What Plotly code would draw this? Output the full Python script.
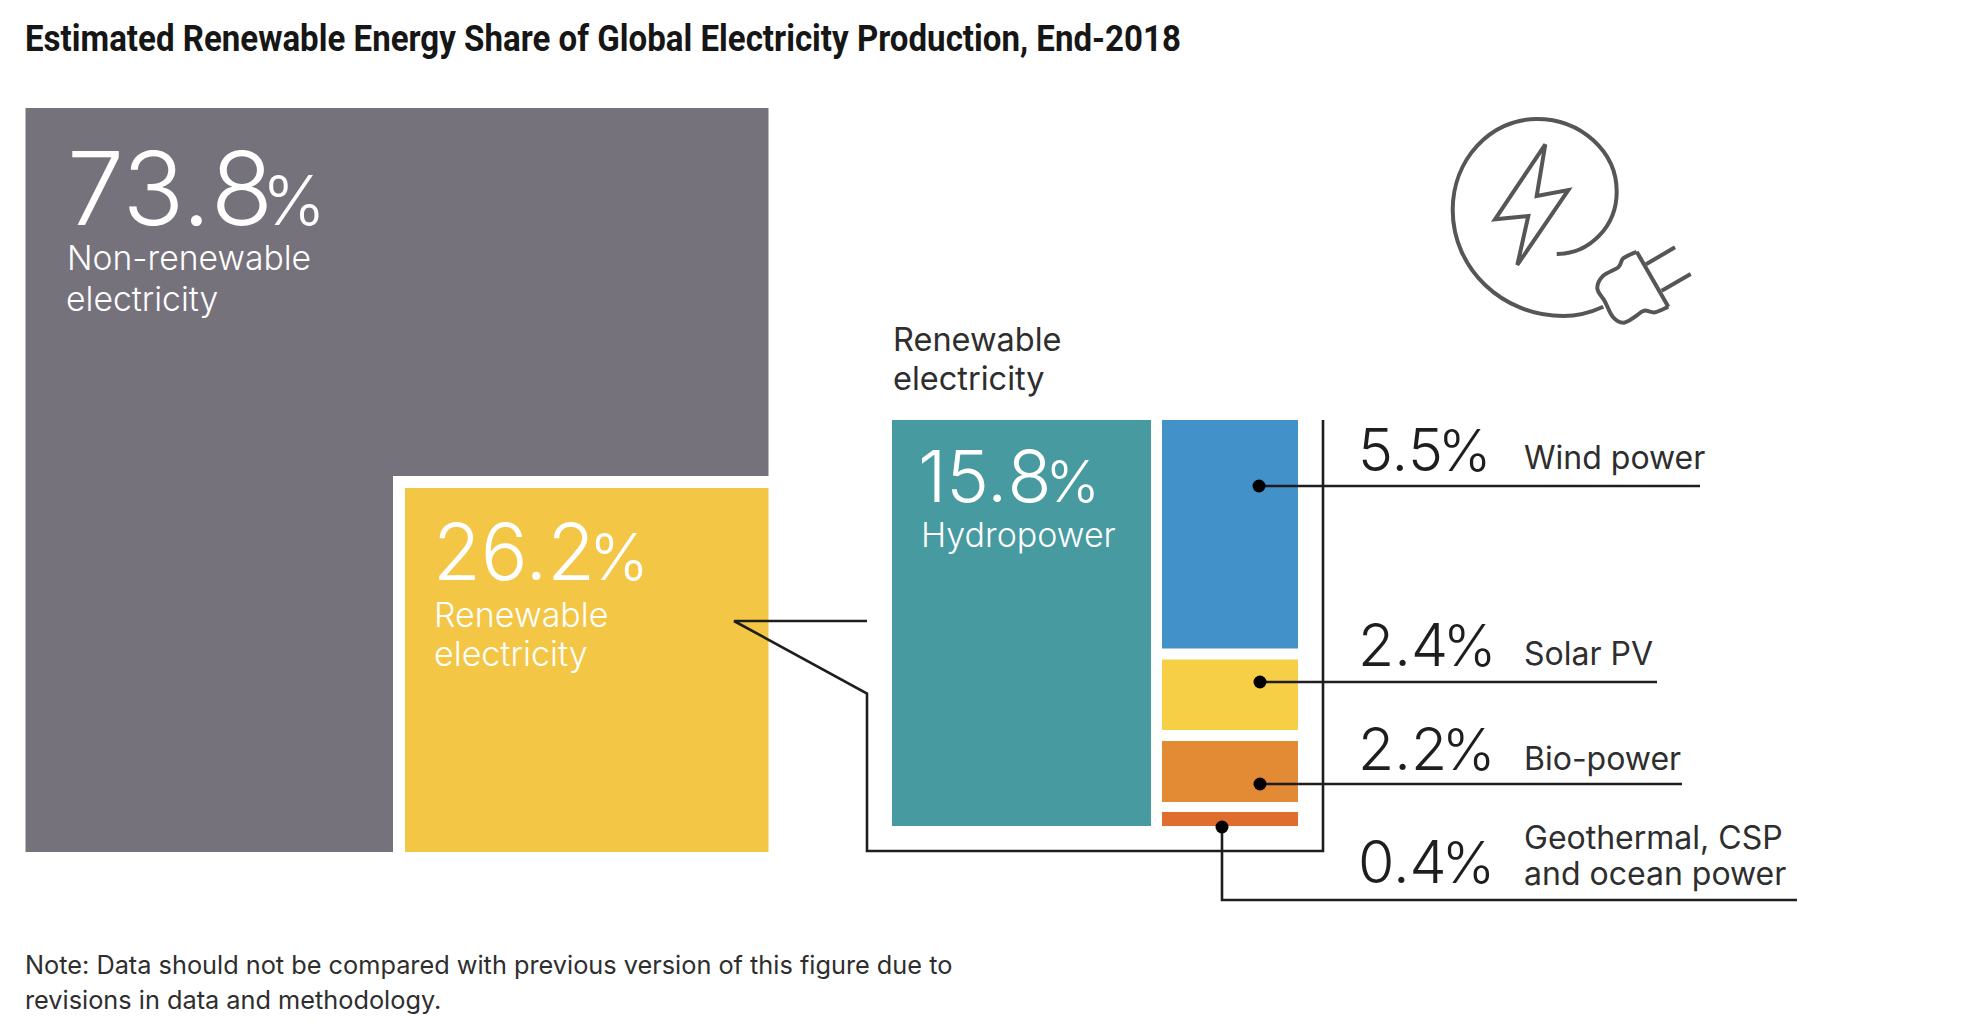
import plotly.graph_objects as go

# ---------- data ----------
title = "Estimated Renewable Energy Share of Global Electricity Production, End-2018"
note_lines = ["Note: Data should not be compared with previous version of this figure due to",
              "revisions in data and methodology."]
main_names = ["Non-renewable electricity", "Renewable electricity"]
main_values = [73.8, 26.2]
detail_names = ["Hydropower", "Wind power", "Solar PV", "Bio-power", "Geothermal, CSP and ocean power"]
detail_values = [15.8, 5.5, 2.4, 2.2, 0.4]

# ---------- drawing frame: cell edges as drawn in the source (not to linear scale) ----------
W, H = 1964, 1028
LEFT, RIGHT, TOP, BOTTOM = 25.5, 768.5, 108, 852
NOTCH_X, NOTCH_Y = 393, 476
REN_X, REN_Y = 405, 488
HYDRO_BOX = (892, 1151, 420, 826)
SIDE_X = (1162, 1298)
SIDE_Y = [(420, 648.5), (659.5, 730), (741, 802), (812, 826)]
COL = dict(grey="#75727C", ren="#F4C646", hydro="#469AA0", wind="#4292C9",
           solar="#F7CF46", bio="#E28A34", geo="#DF6D2E", ink="#1E1E1E", text="#2E2E2E", icon="#565656")
SIDE_COL = [COL["wind"], COL["solar"], COL["bio"], COL["geo"]]
FONT = "Inter"

fig = go.Figure()

def poly(xs, ys, color, name, value):
    fig.add_trace(go.Scatter(x=xs + xs[:1], y=ys + ys[:1], mode="lines", fill="toself",
                             fillcolor=color, line=dict(width=0, color=color), name=name,
                             hoveron="fills", text=f"{name}: {value}%", hoverinfo="text"))

def rect(x0, x1, y0, y1, color, name, value):
    poly([x0, x1, x1, x0], [y0, y0, y1, y1], color, name, value)

def line(xs, ys, width=2.6, color=COL["ink"]):
    fig.add_trace(go.Scatter(x=xs, y=ys, mode="lines", line=dict(width=width, color=color),
                             hoverinfo="skip"))

poly([LEFT, RIGHT, RIGHT, NOTCH_X, NOTCH_X, LEFT],
     [TOP, TOP, NOTCH_Y, NOTCH_Y, BOTTOM, BOTTOM], COL["grey"], main_names[0], main_values[0])
rect(REN_X, RIGHT, REN_Y, BOTTOM, COL["ren"], main_names[1], main_values[1])
rect(HYDRO_BOX[0], HYDRO_BOX[1], HYDRO_BOX[2], HYDRO_BOX[3], COL["hydro"], detail_names[0], detail_values[0])
for (y0, y1), c, n, v in zip(SIDE_Y, SIDE_COL, detail_names[1:], detail_values[1:]):
    rect(SIDE_X[0], SIDE_X[1], y0, y1, c, n, v)

# callout bracket
line([867, 734, 867, 867, 1323, 1323], [621, 621, 693.5, 851, 851, 420], width=2.6)
# leaders
line([1259, 1700], [486, 486])
line([1260, 1657], [682, 682])
line([1260, 1682], [784, 784])
line([1222, 1222, 1797], [827, 900, 900])
fig.add_trace(go.Scatter(x=[1259, 1260, 1260, 1222], y=[486, 682, 784, 827], mode="markers",
                         marker=dict(size=13, color="#000000"), hoverinfo="skip"))

# ---------- text ----------
def txt(x, y, s, size, color=COL["text"], weight=400, family=FONT, anchor="left"):
    fig.add_annotation(x=x, y=y, xref="x", yref="y", text=s, showarrow=False, xanchor=anchor, yanchor="middle",
                       align="left", font=dict(size=size, color=color, family=family, weight=weight))

def pct(v, small, tuck):
    s = str(v)
    return (f'{s[:-1]}<span style="letter-spacing:-{tuck}px">{s[-1]}</span>'
            f'<span style="font-size:{small}px">%</span>')

TITLE_W = 1156
txt(654.5, 39, title, 36, color="#161616", weight=700, family="Roboto", anchor="center")
txt(65, 188, pct(main_values[0], 68, 11), 102, "#FFFFFF", 300)
txt(64.5, 257.5, "Non-renewable", 33.7, "#FFFFFF", 300)
txt(64, 298, "electricity", 33.7, "#FFFFFF", 300)
txt(431, 551, pct(main_values[1], 64, 6), 78, "#FFFFFF", 300)
txt(432, 614, "Renewable", 34, "#FFFFFF", 300)
txt(432, 653, "electricity", 34, "#FFFFFF", 300)
txt(916, 475, pct(detail_values[0], 58, 6), 72, "#FFFFFF", 300)
txt(919, 534.5, detail_names[0], 34, "#FFFFFF", 300)
txt(890.5, 339, "Renewable", 32.5)
txt(890.5, 378, "electricity", 32.5)
for y, v in zip([449, 644.5, 748.5, 861.5], detail_values[1:]):
    txt(1356, y, pct(v, 57, 5), 59, COL["ink"], 300)
txt(1521.5, 457, detail_names[1], 32)
txt(1521.5, 653, detail_names[2], 32)
txt(1521.5, 758, detail_names[3], 32)
txt(1521.5, 837, "Geothermal, CSP", 32)
txt(1521.5, 873, "and ocean power", 32)
txt(22.5, 964, note_lines[0], 25.3)
txt(22.5, 999, note_lines[1], 25.3)

# ---------- decorative plug icon (px in a 3x crop at 1440,110) ----------
def P(x, y):
    return 1440 + x / 3, 110 + y / 3

def fmt(p):
    x, y = P(*p)
    return f"{x:.1f} {y:.1f}"

def beziers(start, segments):
    return f"M {fmt(start)} " + " ".join(f"C {fmt(a)} {fmt(b)} {fmt(c)}" for a, b, c in segments)

def smooth(points):
    pts = [P(*p) for p in points]
    d = f"M {pts[0][0]:.1f} {pts[0][1]:.1f}"
    for i in range(len(pts) - 1):
        p0 = pts[max(i - 1, 0)]; p1 = pts[i]; p2 = pts[i + 1]; p3 = pts[min(i + 2, len(pts) - 1)]
        c1 = (p1[0] + (p2[0] - p0[0]) / 6, p1[1] + (p2[1] - p0[1]) / 6)
        c2 = (p2[0] - (p3[0] - p1[0]) / 6, p2[1] - (p3[1] - p1[1]) / 6)
        d += f" C {c1[0]:.1f} {c1[1]:.1f} {c2[0]:.1f} {c2[1]:.1f} {p2[0]:.1f} {p2[1]:.1f}"
    return d

def straight(points, close=False):
    pts = [P(*p) for p in points]
    d = "M " + " L ".join(f"{x:.1f} {y:.1f}" for x, y in pts)
    return d + (" Z" if close else "")

icon_paths = [
    beziers((490, 590), [((455, 606), (412, 618), (370, 618)),
                         ((187, 618), (38, 476), (38, 300)),
                         ((38, 149), (151, 27), (290, 27)),
                         ((423, 27), (530, 125), (530, 245)),
                         ((530, 348), (450, 432), (350, 432))]),
    straight([(316, 103), (290, 258), (385, 240), (232, 465), (265, 318), (165, 328)], close=True),
    straight([(618, 463), (705, 412)]),
    straight([(665, 542), (752, 492)]),
    straight([(590, 425), (685, 590)]),
    smooth([(685, 590), (645, 607), (612, 602), (585, 620), (550, 638), (518, 620),
            (495, 575), (472, 535), (490, 497), (535, 472), (550, 445), (590, 425)]),
]
for d in icon_paths:
    fig.add_shape(type="path", path=d, xref="x", yref="y", line=dict(color=COL["icon"], width=4), layer="above")

fig.update_layout(width=W, height=H, margin=dict(l=0, r=0, t=0, b=0), showlegend=False,
                  paper_bgcolor="#FFFFFF", plot_bgcolor="#FFFFFF",
                  xaxis=dict(range=[0, W], visible=False, fixedrange=True),
                  yaxis=dict(range=[H, 0], visible=False, fixedrange=True))

# the reference title is a condensed face; squeeze real Roboto Bold text to the same run length
fit_title = (
    "document.body.style.margin='0';document.documentElement.style.overflow='hidden';"
    "document.querySelectorAll('.annotation-text').forEach(function(t){"
    "if(t.textContent.indexOf('Estimated')===0){"
    f"t.setAttribute('textLength','{TITLE_W}');t.setAttribute('lengthAdjust','spacingAndGlyphs');"
    "}});"
)
fig.write_html("out.html", config=dict(displayModeBar=False), post_script=fit_title)
